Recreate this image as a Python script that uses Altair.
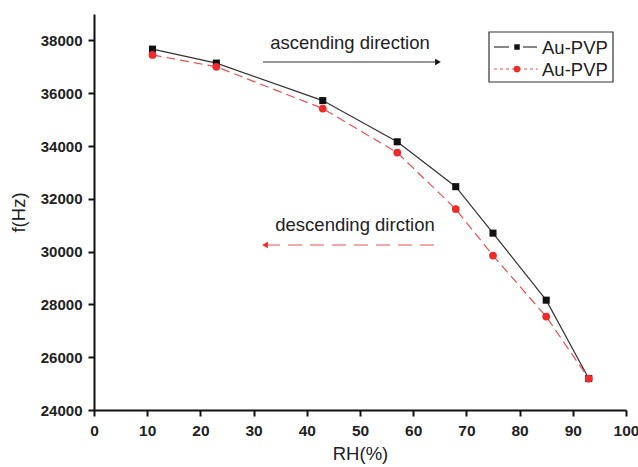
import altair as alt
import pandas as pd

# ---- data ----
rh = [11, 23, 43, 57, 68, 75, 85, 93]
f_asc = [37670, 37140, 35720, 34160, 32460, 30700, 28160, 25190]
f_desc = [37450, 37000, 35420, 33750, 31610, 29850, 27540, 25190]
x_ticks = list(range(0, 101, 5))
y_ticks = list(range(24000, 39001, 1000))
legend_labels = ["Au-PVP", "Au-PVP"]
notes = ["ascending direction", "descending dirction"]

df = pd.DataFrame({"RH": rh + rh,
                   "f": f_asc + f_desc,
                   "series": ["asc"] * len(rh) + ["desc"] * len(rh)})
asc = df[df.series == "asc"]
desc = df[df.series == "desc"]

W, H = 532, 396
BLACK = "#111111"
LINE_BLACK = "#333333"
RED = "#ee2a2a"
RED_LINE = "#e85050"
FONT = "Liberation Sans"

xsc = alt.Scale(domain=[0, 100], nice=False, zero=False)
ysc = alt.Scale(domain=[24000, 39000], nice=False, zero=False)

xaxis = alt.Axis(values=x_ticks, title="RH(%)", grid=False,
                 labelExpr="datum.value % 10 === 0 ? datum.label : ''",
                 tickSize={"condition": {"test": "datum.value % 10 === 0", "value": 6}, "value": 3},
                 labelFont=FONT, labelFontSize=15.5, labelFontWeight="bold", labelColor="#222",
                 titleFont=FONT, titleFontSize=18.5, titleFontWeight="normal", titleColor="#222",
                 titlePadding=6, labelPadding=7,
                 domainColor=BLACK, domainWidth=2, tickColor=BLACK, tickWidth=2, labelFlush=False)
yaxis = alt.Axis(values=y_ticks, title="f(Hz)", grid=False, format="d",
                 labelExpr="datum.value % 2000 === 0 ? datum.label : ''",
                 tickSize={"condition": {"test": "datum.value % 2000 === 0", "value": 6}, "value": 3},
                 labelFont=FONT, labelFontSize=15, labelFontWeight="bold", labelColor="#222",
                 titleFont=FONT, titleFontSize=18.5, titleFontWeight="normal", titleColor="#222",
                 titlePadding=12, labelPadding=6,
                 domainColor=BLACK, domainWidth=2, tickColor=BLACK, tickWidth=2)

base_x = alt.X("RH:Q", scale=xsc, axis=xaxis)
base_y = alt.Y("f:Q", scale=ysc, axis=yaxis)

line_asc = alt.Chart(asc).mark_line(color=LINE_BLACK, strokeWidth=1.2).encode(x=base_x, y=base_y)
pts_asc = alt.Chart(asc).mark_square(color=BLACK, size=50, opacity=1).encode(x="RH:Q", y="f:Q")
line_desc = alt.Chart(desc).mark_line(color=RED_LINE, strokeWidth=1.2, strokeDash=[9, 5]).encode(x="RH:Q", y="f:Q")
pts_desc = alt.Chart(desc).mark_circle(color=RED, size=60, opacity=1).encode(x="RH:Q", y="f:Q")

one = alt.Data(values=[{}])

# annotations (pixel layout in plot area)
txt_asc = alt.Chart(one).mark_text(text=notes[0], font=FONT, fontSize=18.5, color="#222", align="center", baseline="middle").encode(
    x=alt.value(256), y=alt.value(29))
arr_asc = alt.Chart(one).mark_rule(color=LINE_BLACK, strokeWidth=1.2).encode(
    x=alt.value(169), x2=alt.value(342), y=alt.value(48))
head_asc = alt.Chart(one).mark_point(shape="triangle-right", filled=True, color=BLACK, size=45, opacity=1).encode(
    x=alt.value(344), y=alt.value(48))

txt_desc = alt.Chart(one).mark_text(text=notes[1], font=FONT, fontSize=18.5, color="#222", align="center", baseline="middle").encode(
    x=alt.value(261), y=alt.value(211))
arr_desc = alt.Chart(one).mark_rule(color=RED_LINE, strokeWidth=1.2, strokeDash=[14, 8]).encode(
    x=alt.value(172), x2=alt.value(348), y=alt.value(231))
head_desc = alt.Chart(one).mark_point(shape="triangle-left", filled=True, color=RED, size=45, opacity=1).encode(
    x=alt.value(171), y=alt.value(231))

# legend
leg_box = alt.Chart(one).mark_rect(fill="white", stroke="#333", strokeWidth=1.2).encode(
    x=alt.value(395), x2=alt.value(519), y=alt.value(18), y2=alt.value(68))
leg_l1a = alt.Chart(one).mark_rule(color=LINE_BLACK, strokeWidth=1.2).encode(
    x=alt.value(400), x2=alt.value(415), y=alt.value(33))
leg_l1b = alt.Chart(one).mark_rule(color=LINE_BLACK, strokeWidth=1.2).encode(
    x=alt.value(429), x2=alt.value(443), y=alt.value(33))
leg_p1 = alt.Chart(one).mark_square(color=BLACK, size=30, opacity=1).encode(x=alt.value(423), y=alt.value(33))
leg_t1 = alt.Chart(one).mark_text(text=legend_labels[0], font=FONT, fontSize=18.5, color="#222", align="left", baseline="middle").encode(
    x=alt.value(448), y=alt.value(34))
leg_l2 = alt.Chart(one).mark_rule(color=RED_LINE, strokeWidth=1.2, strokeDash=[3, 3]).encode(
    x=alt.value(400), x2=alt.value(444), y=alt.value(55))
leg_p2 = alt.Chart(one).mark_circle(color=RED, size=45, opacity=1).encode(x=alt.value(423), y=alt.value(55))
leg_t2 = alt.Chart(one).mark_text(text=legend_labels[1], font=FONT, fontSize=18.5, color="#222", align="left", baseline="middle").encode(
    x=alt.value(448), y=alt.value(56))

chart = alt.layer(
    line_asc, line_desc, pts_asc, pts_desc,
    arr_asc, head_asc, txt_asc, arr_desc, head_desc, txt_desc,
    leg_box, leg_l1a, leg_l1b, leg_p1, leg_t1, leg_l2, leg_p2, leg_t2,
).properties(
    width=W, height=H,
    autosize=alt.AutoSizeParams(type="none"),
    padding={"left": 94, "top": 14, "right": 12, "bottom": 57},
    background="white",
).configure_view(stroke=None)

chart.save("out.html", embed_options={"renderer": "svg", "actions": False})
